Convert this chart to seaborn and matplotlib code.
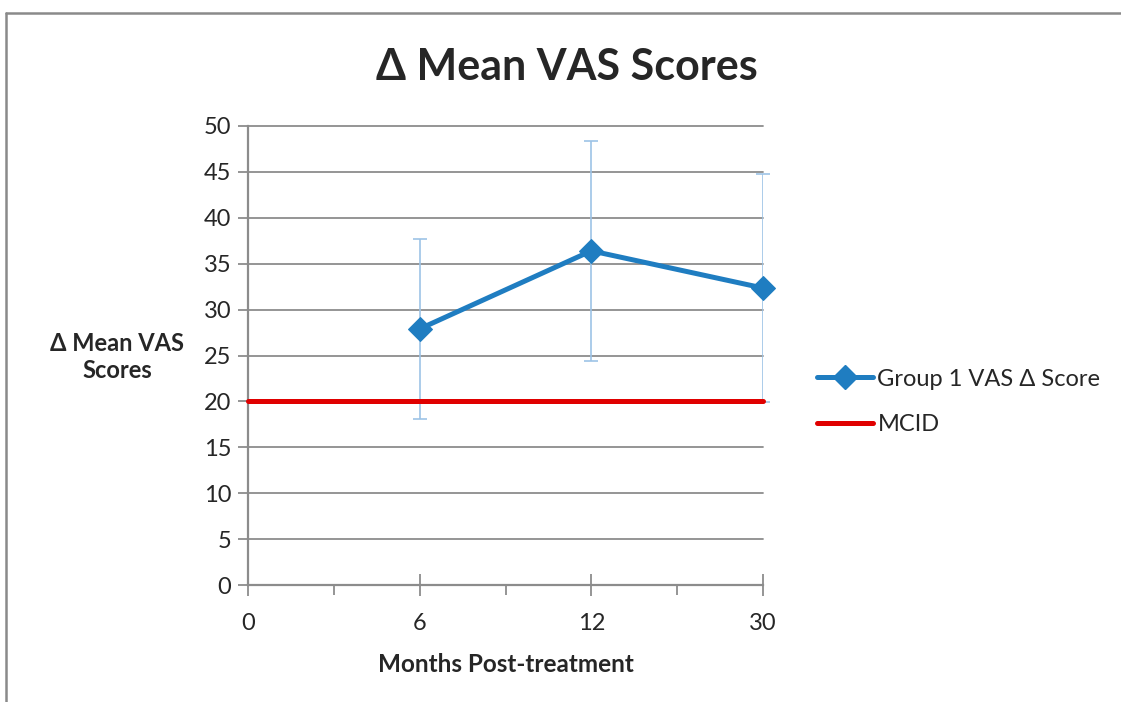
import matplotlib
matplotlib.use('Agg')
import matplotlib.pyplot as plt
import seaborn as sns
import pandas as pd
from matplotlib.lines import Line2D

# dados
meses = ['0', '6', '12', '30']
meses_grupo = ['6', '12', '30']
vas_grupo1 = [27.9, 36.4, 32.35]
erro_grupo1 = [9.8, 12.0, 12.4]
mcid_meses = ['0', '30']
mcid_valor = [20, 20]

azul = '#1F7DC1'
vermelho = '#E00000'
cinza = '#8C8C8C'

sns.set_style('white')
plt.rcParams['font.family'] = ['Lato', 'DejaVu Sans']

df = pd.DataFrame({'pos': [meses.index(m) for m in meses_grupo],
                   'vas': vas_grupo1, 'erro': erro_grupo1})
df_mcid = pd.DataFrame({'pos': [meses.index(m) for m in mcid_meses],
                        'vas': mcid_valor})

fig = plt.figure(figsize=(11.21, 7.02), dpi=100)
ax = fig.add_axes([248/1121, 1 - 585/702, 515/1121, 459/702])

# moldura (so topo e esquerda aparecem)
x0, y0 = 5.5/1121, 1 - 13/702
fig.add_artist(Line2D([x0, 1.05], [y0, y0], transform=fig.transFigure, color='#8A8A8A', linewidth=1.8))
fig.add_artist(Line2D([x0, x0], [y0, -0.05], transform=fig.transFigure, color='#8A8A8A', linewidth=1.8))

# grade
for v in range(5, 55, 5):
    ax.axhline(v, color=cinza, linewidth=1.3, zorder=1)

# barras de erro
ax.errorbar(df['pos'], df['vas'], yerr=df['erro'], fmt='none', ecolor='#9DC3E6',
            elinewidth=1.2, capsize=5, capthick=1.2, zorder=2)

sns.lineplot(data=df_mcid, x='pos', y='vas', color=vermelho, linewidth=3.6, ax=ax, zorder=3)
sns.lineplot(data=df, x='pos', y='vas', color=azul, linewidth=3.6, marker='D',
             markersize=12, markeredgecolor=azul, ax=ax, zorder=4)

ax.set_xlim(0, 3)
ax.set_ylim(0, 50)
ax.set_yticks(range(0, 55, 5))
ax.set_xticks(range(len(meses)))
ax.set_xticklabels(meses)
ax.set_xticks([0.5, 1.5, 2.5], minor=True)
ax.tick_params(axis='y', which='major', direction='out', length=7, width=1.3, color=cinza,
               labelsize=17, pad=5, left=True)
ax.tick_params(axis='x', which='major', direction='inout', length=16, width=1.3, color=cinza,
               labelsize=17, pad=12, bottom=True)
ax.tick_params(axis='x', which='minor', direction='out', length=7, width=1.3, color=cinza, bottom=True)

for s in ['top', 'right']:
    ax.spines[s].set_visible(False)
for s in ['left', 'bottom']:
    ax.spines[s].set_color(cinza)
    ax.spines[s].set_linewidth(1.6)
for ln in ax.lines:
    ln.set_clip_on(False)

ax.set_xlabel('Months Post-treatment', fontsize=17.5, fontweight='bold', labelpad=14)
ax.set_ylabel('')
fig.text(117/1121, 1 - 357/702, 'Δ Mean VAS\nScores', fontsize=17, fontweight='bold',
         ha='center', va='center', linespacing=1.25)
fig.text(567/1121, 1 - 67/702, 'Δ Mean VAS Scores', fontsize=31, fontweight='bold',
         ha='center', va='center')

handles = [Line2D([], [], color=azul, linewidth=3.6, marker='D', markersize=12),
           Line2D([], [], color=vermelho, linewidth=3.6)]
fig.legend(handles, ['Group 1 VAS Δ Score', 'MCID'], loc='center left',
           bbox_to_anchor=(796/1121, 1 - 402/702), frameon=False, fontsize=17,
           handlelength=2.35, handletextpad=0.2, labelspacing=1.05)

plt.savefig('out.png', dpi=100)
